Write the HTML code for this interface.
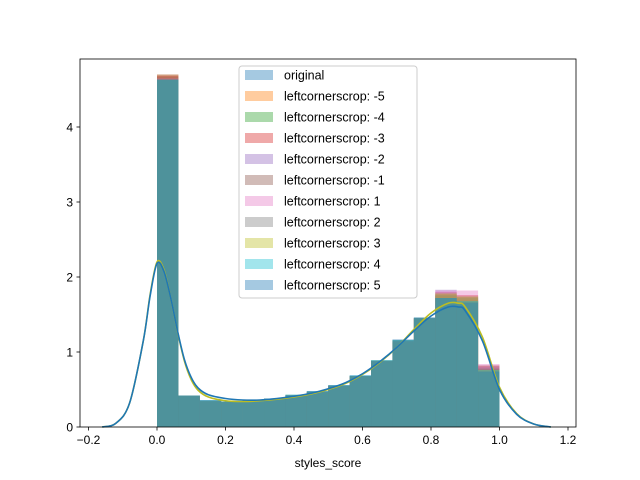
<!DOCTYPE html>
<html><head><meta charset="utf-8"><style>
body{margin:0;background:#fff;}
svg{display:block;font-family:"Liberation Sans","DejaVu Sans",sans-serif;}
</style></head><body>
<svg id="chart" width="640" height="480" xmlns="http://www.w3.org/2000/svg">
<rect width="640" height="480" fill="#fff"/>
<g id="bars"></g><g id="kdes"></g><g id="axes"></g><g id="legend"></g>
</svg>
<script>
const binEdgesStart = 0;
const binWidth = 0.0625;
const seriesNames = ["original","leftcornerscrop: -5","leftcornerscrop: -4","leftcornerscrop: -3","leftcornerscrop: -2","leftcornerscrop: -1","leftcornerscrop: 1","leftcornerscrop: 2","leftcornerscrop: 3","leftcornerscrop: 4","leftcornerscrop: 5"];
const seriesColors = ["#1f77b4","#ff7f0e","#2ca02c","#d62728","#9467bd","#8c564b","#e377c2","#7f7f7f","#bcbd22","#17becf","#1f77b4"];
const h0 = [4.63,0.42,0.35,0.34,0.35,0.38,0.42,0.47,0.55,0.68,0.88,1.15,1.45,1.72,1.68,0.76];
const h1 = [4.70,0.41,0.34,0.33,0.35,0.38,0.42,0.47,0.54,0.67,0.87,1.12,1.44,1.74,1.70,0.78];
const h2 = [4.66,0.42,0.35,0.33,0.35,0.38,0.43,0.47,0.55,0.68,0.89,1.16,1.46,1.75,1.68,0.77];
const h3 = [4.68,0.41,0.34,0.33,0.34,0.38,0.42,0.47,0.55,0.67,0.87,1.13,1.45,1.80,1.76,0.82];
const h4 = [4.64,0.42,0.35,0.34,0.35,0.38,0.42,0.47,0.55,0.68,0.88,1.15,1.45,1.83,1.74,0.80];
const h5 = [4.70,0.41,0.34,0.33,0.35,0.38,0.42,0.47,0.55,0.68,0.88,1.14,1.45,1.78,1.74,0.82];
const h6 = [4.65,0.42,0.35,0.34,0.35,0.38,0.42,0.47,0.55,0.68,0.88,1.15,1.46,1.82,1.82,0.84];
const h7 = [4.64,0.42,0.35,0.34,0.35,0.38,0.42,0.47,0.55,0.68,0.88,1.15,1.45,1.76,1.72,0.78];
const h8 = [4.63,0.42,0.35,0.34,0.35,0.38,0.42,0.47,0.55,0.68,0.88,1.15,1.45,1.78,1.74,0.76];
const h9 = [4.63,0.42,0.36,0.34,0.35,0.38,0.43,0.48,0.56,0.69,0.89,1.16,1.46,1.72,1.68,0.76];
const h10 = [4.63,0.42,0.36,0.34,0.35,0.38,0.43,0.48,0.56,0.69,0.89,1.17,1.46,1.72,1.66,0.74];
const seriesHeights = [h0,h1,h2,h3,h4,h5,h6,h7,h8,h9,h10];
const kdeX = [-0.16,-0.12,-0.08,-0.04,-0.02,0,0.02,0.04,0.06,0.08,0.1,0.12,0.15,0.2,0.25,0.3,0.35,0.4,0.45,0.5,0.55,0.6,0.65,0.7,0.75,0.8,0.85,0.88,0.9,0.95,1.0,1.05,1.1,1.15];
const kdeA = [0,0.05,0.32,1.15,1.75,2.18,2.08,1.72,1.28,0.9,0.66,0.52,0.43,0.38,0.36,0.36,0.38,0.41,0.45,0.51,0.59,0.71,0.87,1.06,1.28,1.48,1.6,1.6,1.55,1.15,0.5,0.17,0.04,0];
const kdeB = [0,0.05,0.32,1.15,1.77,2.2,2.1,1.72,1.27,0.88,0.63,0.49,0.4,0.35,0.34,0.35,0.37,0.4,0.44,0.5,0.58,0.7,0.86,1.06,1.3,1.52,1.65,1.65,1.6,1.2,0.53,0.18,0.04,0];
const xTicks = [-0.2,0,0.2,0.4,0.6,0.8,1.0,1.2];
const xTickLabels = ["−0.2","0.0","0.2","0.4","0.6","0.8","1.0","1.2"];
const yTicks = [0,1,2,3,4];

const L=80,R=576,T=59,B=427;
const sx = v => 157 + v*342.5;
const sy = v => B - v*75;
const NS="http://www.w3.org/2000/svg";
function mk(tag, attrs, parent){const e=document.createElementNS(NS,tag);for(const k in attrs)e.setAttribute(k,attrs[k]);parent.appendChild(e);return e;}
function smoothPath(pts){
  let d='M'+pts[0][0]+','+pts[0][1];
  for(let i=0;i<pts.length-1;i++){
    const p0=pts[Math.max(0,i-1)],p1=pts[i],p2=pts[i+1],p3=pts[Math.min(pts.length-1,i+2)];
    const c1=[p1[0]+(p2[0]-p0[0])/6,p1[1]+(p2[1]-p0[1])/6];
    const c2=[p2[0]-(p3[0]-p1[0])/6,p2[1]-(p3[1]-p1[1])/6];
    d+=' C'+c1.join(',')+' '+c2.join(',')+' '+p2.join(',');
  }
  return d;
}

const bars=document.getElementById('bars');
seriesHeights.forEach((hs,si)=>{
  hs.forEach((h,i)=>{
    const x0=sx(binEdgesStart+i*binWidth), x1=sx(binEdgesStart+(i+1)*binWidth);
    const r=mk('rect',{x:x0,y:sy(h),width:x1-x0,height:sy(0)-sy(h),fill:seriesColors[si],'fill-opacity':0.4},bars);
    
    
  });
});
const kdes=document.getElementById('kdes');
[[kdeB,"#bcbd22"],[kdeA,"#1f77b4"]].forEach(([ys,c])=>{
  const p=mk('path',{d:smoothPath(kdeX.map((x,i)=>[sx(x),sy(ys[i])])),fill:'none',stroke:c,'stroke-width':1.6,'stroke-linejoin':'round'},kdes);
  
  
});
const axes=document.getElementById('axes');
const frame=mk('rect',{x:L,y:T,width:R-L,height:B-T,fill:'none',stroke:'#000','stroke-width':0.8},axes);


xTicks.forEach((v,i)=>{
  mk('line',{x1:sx(v),x2:sx(v),y1:B,y2:B+3.5,stroke:'#000','stroke-width':0.8},axes);
  const t=mk('text',{x:sx(v),y:B+17,'font-size':12,'text-anchor':'middle'},axes);
  t.textContent=xTickLabels[i];
  
  
});
yTicks.forEach(v=>{
  mk('line',{x1:L-3.5,x2:L,y1:sy(v),y2:sy(v),stroke:'#000','stroke-width':0.8},axes);
  const t=mk('text',{x:L-7,y:sy(v)+4.5,'font-size':12,'text-anchor':'end'},axes);
  t.textContent=String(v);
  
  
});
const xl=mk('text',{x:328,y:467,'font-size':12,'text-anchor':'middle'},axes);
xl.textContent='styles_score';



const lg=document.getElementById('legend');
const box=mk('rect',{x:239,y:66,width:178,height:232,rx:3,fill:'#fff','fill-opacity':0.8,stroke:'#ccc','stroke-width':1},lg);


seriesNames.forEach((n,i)=>{
  const y=75+i*21;
  const g=mk('g',{},lg);
  
  
  mk('rect',{x:245,y:y-5,width:28,height:10,fill:seriesColors[i],'fill-opacity':0.4},g);
  const t=mk('text',{x:284,y:y+4.5,'font-size':12.5},g);
  t.textContent=n;
});
</script>
</body></html>
